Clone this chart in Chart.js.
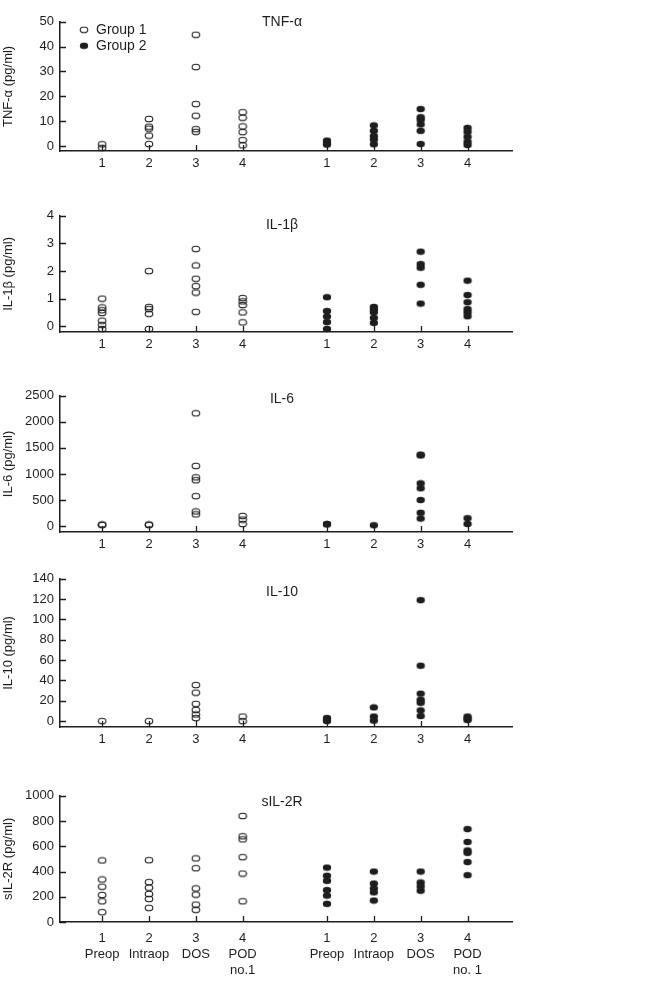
<!DOCTYPE html>
<html>
<head>
<meta charset="utf-8">
<script src="https://cdn.jsdelivr.net/npm/chart.js@4.4.0/dist/chart.umd.min.js"></script>
<style>
  body { margin: 0; background: #fff; width: 650px; height: 986px; position: relative; overflow: hidden; }
  canvas { position: absolute; left: 0; }
</style>
</head>
<body>
<canvas id="c1"></canvas>
<canvas id="c2"></canvas>
<canvas id="c3"></canvas>
<canvas id="c4"></canvas>
<canvas id="c5"></canvas>
<script>
// ===== data =====
const periods = ['1', '2', '3', '4'];
const periodNames1 = [['Preop'], ['Intraop'], ['DOS'], ['POD', 'no.1']];
const periodNames2 = [['Preop'], ['Intraop'], ['DOS'], ['POD', 'no. 1']];
const groupLabels = ['Group 1', 'Group 2'];

// one inner array per time point
const tnfGroup1 = [[0.7, -0.7], [10.9, 7.8, 7.0, 4.2, 0.8], [44.8, 31.8, 16.9, 12.2, 6.8, 5.7], [13.6, 11.4, 7.9, 5.6, 2.4, 0.3]];
const tnfGroup2 = [[2.2, 1.0, 0.6], [8.3, 6.1, 4.0, 2.6, 0.7], [14.9, 11.6, 10.6, 8.7, 6.1, 0.8], [7.3, 5.7, 3.7, 1.7, 0.4]];
const il1Group1 = [[1.0, 0.68, 0.58, 0.48, 0.2, 0.05, -0.1], [2.0, 0.7, 0.62, 0.45, -0.1], [2.8, 2.2, 1.72, 1.45, 1.22, 0.52], [1.02, 0.9, 0.77, 0.5, 0.14]];
const il1Group2 = [[1.05, 0.55, 0.35, 0.15, -0.1], [0.7, 0.6, 0.5, 0.3, 0.12], [2.7, 2.25, 2.12, 1.5, 0.82], [1.65, 1.13, 0.87, 0.62, 0.5, 0.36]];
const il6Group1 = [[30, 20], [30, 20], [2165, 1155, 935, 880, 575, 280, 225], [195, 125, 40]];
const il6Group2 = [[40, 30], [15], [1370, 1355, 820, 725, 500, 255, 145], [150, 40]];
const il10Group1 = [[0], [0], [35.5, 28, 17, 11, 6.5, 3], [4.5, 0]];
const il10Group2 = [[3, 1.5, 0], [13.5, 4.5, 0.5], [119, 54.5, 27, 21, 18, 10.5, 5], [4.5, 2.5, 1]];
const sil2rGroup1 = [[488, 337, 280, 214, 164, 78], [490, 316, 272, 222, 183, 112], [504, 426, 266, 217, 138, 97], [840, 679, 655, 514, 384, 164]];
const sil2rGroup2 = [[431, 366, 326, 253, 209, 144], [400, 305, 266, 235, 170], [400, 313, 282, 248], [736, 634, 567, 548, 475, 371]];

const tnfTicks = [0, 10, 20, 30, 40, 50];
const il1Ticks = [0, 1, 2, 3, 4];
const il6Ticks = [0, 500, 1000, 1500, 2000, 2500];
const il10Ticks = [0, 20, 40, 60, 80, 100, 120, 140];
const sil2rTicks = [0, 200, 400, 600, 800, 1000];

// ===== layout =====
const INK = '#1e1e1e';
const FONT = "'Liberation Sans Narrow', 'Liberation Sans', Arial, sans-serif";
const GROUP_GAP = 4.8; // x offset of group 2 time points

const panels = [
  { id: 'c1', title: 'TNF-\u03b1', yLabel: 'TNF-\u03b1 (pg/ml)', g1: tnfGroup1, g2: tnfGroup2, ticks: tnfTicks, min: -2, top: 20, bottom: 151, titleDy: 0, legend: true },
  { id: 'c2', title: 'IL-1\u03b2', yLabel: 'IL-1\u03b2 (pg/ml)', g1: il1Group1, g2: il1Group2, ticks: il1Ticks, min: -0.21, top: 214, bottom: 332, titleDy: 9 },
  { id: 'c3', title: 'IL-6', yLabel: 'IL-6 (pg/ml)', g1: il6Group1, g2: il6Group2, ticks: il6Ticks, min: -114, top: 394, bottom: 532, titleDy: 3 },
  { id: 'c4', title: 'IL-10', yLabel: 'IL-10 (pg/ml)', g1: il10Group1, g2: il10Group2, ticks: il10Ticks, min: -5.8, top: 577, bottom: 727, titleDy: 13 },
  { id: 'c5', title: 'sIL-2R', yLabel: 'sIL-2R (pg/ml)', g1: sil2rGroup1, g2: sil2rGroup2, ticks: sil2rTicks, min: 0, top: 794, bottom: 922, titleDy: 6, names: true }
];

function marker(filled) {
  const c = document.createElement('canvas');
  c.width = 10; c.height = 8;
  const ctx = c.getContext('2d');
  ctx.beginPath();
  ctx.ellipse(5, 4, filled ? 4.2 : 3.8, filled ? 3.3 : 2.8, 0, 0, Math.PI * 2);
  if (filled) { ctx.fillStyle = INK; ctx.fill(); }
  else { ctx.lineWidth = 1.1; ctx.strokeStyle = INK; ctx.stroke(); }
  return c;
}
const openMarker = marker(false);
const solidMarker = marker(true);

function toPoints(groups, offset) {
  const pts = [];
  groups.forEach((vals, i) => vals.forEach(v => pts.push({ x: i + 1 + offset, y: v })));
  return pts;
}

// inward tick marks, panel title, legend
const decorations = {
  id: 'decorations',
  afterDraw(chart) {
    const ctx = chart.ctx;
    const area = chart.chartArea;
    const o = chart.options.plugins.decorations;
    ctx.save();
    ctx.strokeStyle = INK;
    ctx.lineWidth = 1.3;
    const xs = chart.scales.x, ys = chart.scales.y;
    ctx.beginPath();
    ys.ticks.forEach(t => {
      const y = Math.round(ys.getPixelForValue(t.value)) + 0.5;
      ctx.moveTo(area.left, y); ctx.lineTo(area.left + 6, y);
    });
    xs.ticks.forEach(t => {
      const x = Math.round(xs.getPixelForValue(t.value)) + 0.5;
      ctx.moveTo(x, area.bottom); ctx.lineTo(x, area.bottom - 6);
    });
    ctx.stroke();

    ctx.fillStyle = INK;
    ctx.font = '14px ' + FONT;
    ctx.textAlign = 'center';
    ctx.textBaseline = 'middle';
    ctx.fillText(o.title, 282, area.top + o.titleDy);

    if (o.legend) {
      ctx.textAlign = 'left';
      chart.data.datasets.forEach((ds, i) => {
        const y = area.top + 8 + i * 16;
        const img = ds.pointStyle;
        ctx.drawImage(img, 84 - img.width / 2, y - img.height / 2);
        ctx.fillText(ds.label, 96, y);
      });
    }
    ctx.restore();
  }
};

panels.forEach(p => {
  const padTop = 12;
  const xh = p.names ? 64 : 28;
  const canvas = document.getElementById(p.id);
  canvas.width = 650;
  canvas.height = p.bottom - p.top + padTop + xh;
  canvas.style.top = (p.top - padTop) + 'px';

  const xTicks = [];
  [0, GROUP_GAP].forEach(off => periods.forEach((lab, i) => xTicks.push(i + 1 + off)));

  new Chart(canvas.getContext('2d'), {
    type: 'scatter',
    data: {
      datasets: [
        { label: groupLabels[0], data: toPoints(p.g1, 0), pointStyle: openMarker, pointRadius: 4, pointHoverRadius: 4, clip: false },
        { label: groupLabels[1], data: toPoints(p.g2, GROUP_GAP), pointStyle: solidMarker, pointRadius: 4, pointHoverRadius: 4, clip: false }
      ]
    },
    options: {
      responsive: false,
      animation: false,
      layout: { padding: { top: padTop, right: 138, left: 0, bottom: 0 } },
      plugins: {
        legend: { display: false },
        tooltip: { enabled: false },
        decorations: { title: p.title, titleDy: p.titleDy, legend: !!p.legend }
      },
      scales: {
        x: {
          type: 'linear',
          min: 0.1,
          max: 9.75,
          afterBuildTicks: s => { s.ticks = xTicks.map(v => ({ value: v })); },
          afterFit: s => { s.height = xh; },
          grid: { display: true, drawOnChartArea: false, drawTicks: false },
          border: { display: true, color: INK, width: 1.5 },
          ticks: {
            color: INK,
            padding: p.names ? 9 : 5,
            font: { family: FONT, size: 13, lineHeight: 1.2 },
            maxRotation: 0,
            autoSkip: false,
            callback: (v, i) => {
              const k = i % 4;
              if (!p.names) return periods[k];
              const names = i < 4 ? periodNames1 : periodNames2;
              return [periods[k]].concat(names[k]);
            }
          }
        },
        y: {
          min: p.min,
          max: p.ticks[p.ticks.length - 1],
          afterBuildTicks: s => { s.ticks = p.ticks.map(v => ({ value: v })); },
          afterFit: s => { s.width = 60; },
          grid: { display: true, drawOnChartArea: false, drawTicks: false },
          border: { display: true, color: INK, width: 1.5 },
          ticks: { color: INK, padding: 6, font: { family: FONT, size: 13 }, callback: v => String(v) },
          title: {
            display: true,
            text: p.yLabel,
            color: INK,
            font: { family: FONT, size: 13 },
            padding: { top: 1, bottom: 0 }
          }
        }
      }
    },
    plugins: [decorations]
  });
});
</script>
</body>
</html>
